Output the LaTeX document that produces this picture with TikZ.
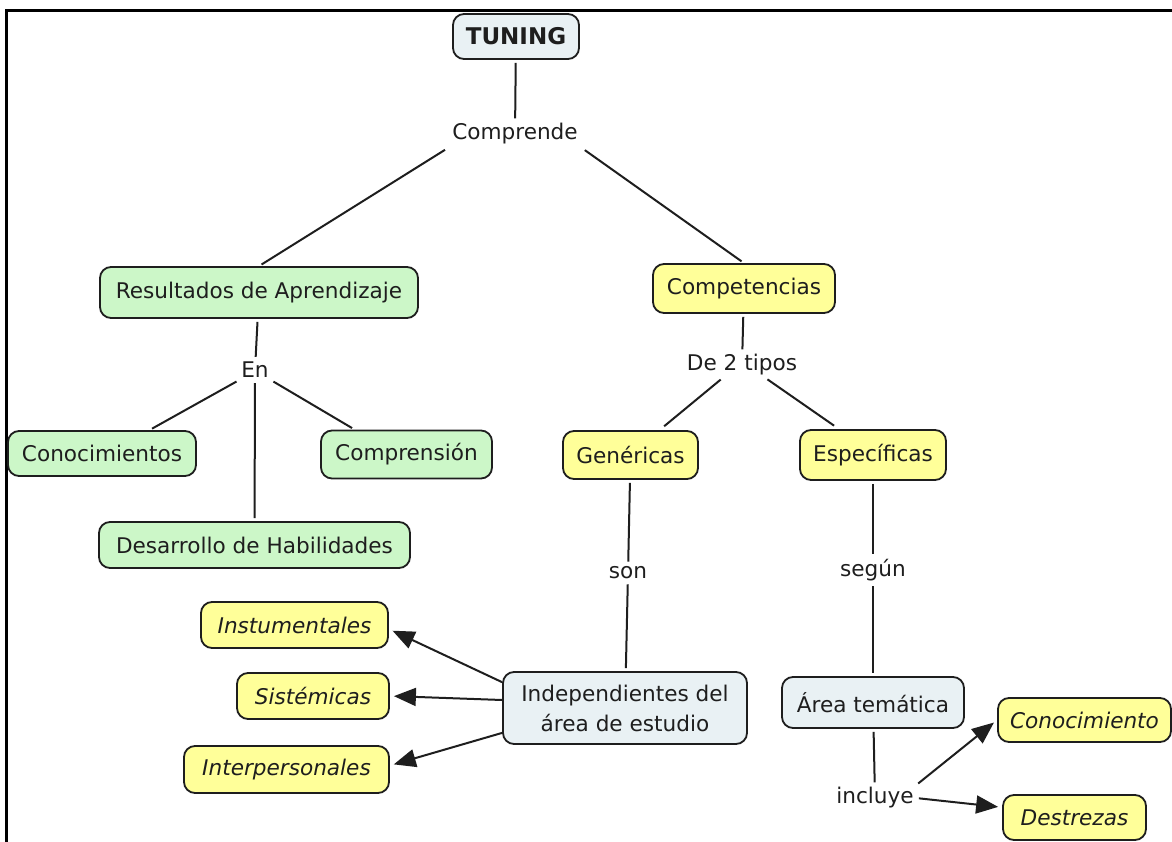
\documentclass[tikz,border=0pt]{standalone}
\usepackage{fontspec}
\setmainfont{DejaVu Sans}
\usetikzlibrary{arrows.meta,calc}
\definecolor{gfill}{HTML}{CCF7C8}
\definecolor{yfill}{HTML}{FFFF99}
\definecolor{bfill}{HTML}{E9F1F4}
\definecolor{ink}{HTML}{1E1E1E}
\begin{document}
\begin{tikzpicture}[x=1pt,y=-1pt,
  font=\fontsize{21.6}{30}\selectfont, text=ink,
  box/.style={draw=ink, line width=1.8pt, rounded corners=11pt, minimum height=47pt, inner sep=0pt, align=center},
  gbox/.style={box, fill=gfill},
  ybox/.style={box, fill=yfill},
  bbox/.style={box, fill=bfill},
  itbox/.style={ybox, font=\fontsize{21.6}{30}\selectfont\itshape},
  lbl/.style={inner sep=2pt},
  con/.style={line width=2pt, draw=ink, shorten <=3pt, shorten >=3pt},
  arr/.style={con, shorten >=4pt, -{Triangle[length=22pt,width=18pt]}}]

\useasboundingbox (0,0) rectangle (1172,842);
\draw[line width=3pt, draw=black] (6.5,842) -- (6.5,10.5) -- (1172,10.5);

% boxes
\node[bbox, minimum width=126pt, minimum height=45pt, font=\fontsize{23}{30}\selectfont\bfseries] (tuning) at (516,36.5) {TUNING};
\node[gbox, minimum width=318pt, minimum height=51pt] (resultados) at (259,292.5) {Resultados de Aprendizaje};
\node[ybox, minimum width=182pt, minimum height=49pt] (competencias) at (744,288.5) {Competencias};
\node[gbox, minimum width=188pt, minimum height=45pt] (conocimientos) at (102,453.5) {Conocimientos};
\node[gbox, minimum width=171pt, minimum height=48pt] (comprension) at (406.5,454.5) {Comprensión};
\node[gbox, minimum width=311pt, minimum height=46pt] (desarrollo) at (254.5,545) {Desarrollo de Habilidades};
\node[ybox, minimum width=135pt, minimum height=48pt] (genericas) at (630.5,455) {Genéricas};
\node[ybox, minimum width=146pt, minimum height=50pt] (especificas) at (873,455) {Específicas};
\node[bbox, minimum width=244pt, minimum height=72pt] (indep) at (625,708) {Independientes del\\área de estudio};
\node[bbox, minimum width=182pt, minimum height=51pt] (area) at (873,702.5) {Área temática};
\node[itbox, minimum width=173pt, minimum height=44pt] (conocimiento) at (1084.5,720) {Conocimiento};
\node[itbox, minimum width=143pt, minimum height=45pt] (destrezas) at (1074.5,817.5) {Destrezas};
\node[itbox, minimum width=187pt, minimum height=46pt] (instumentales) at (294.5,625) {Instumentales};
\node[itbox, minimum width=152pt, minimum height=46pt] (sistemicas) at (313,696) {Sistémicas};
\node[itbox, minimum width=205pt, minimum height=47pt] (interpersonales) at (286.5,769.5) {Interpersonales};

% linking phrases
\node[lbl] (comprende) at (515,134) {Comprende};
\node[lbl] (en) at (255,370) {En};
\node[lbl] (de2) at (742,365) {De 2 tipos};
\node[lbl] (son) at (628,573) {son};
\node[lbl] (segun) at (873,570) {según};
\node[lbl] (incluye) at (875,798) {incluye};

% connectors
\draw[con] (tuning) -- (comprende);
\draw[con, shorten <=6pt] (comprende.south west) -- (resultados.north);
\draw[con, shorten <=6pt] (comprende.south east) -- (competencias.north);
\draw[con] (resultados) -- (en);
\draw[con] (en.south west) -- ($(conocimientos.north)!0.5!(conocimientos.north east)$);
\draw[con] (en.south east) -- ($(comprension.north west)!0.4!(comprension.north)$);
\draw[con] (en) -- (desarrollo);
\draw[con] (competencias) -- (de2);
\draw[con, shorten >=6pt] ($(de2.south)+(-19,0)$) -- ($(genericas.north)+(29,0)$);
\draw[con, shorten >=6pt] ($(de2.south)+(23,0)$) -- ($(especificas.north)+(-34,0)$);
\draw[con] (genericas) -- (son);
\draw[con] (son) -- (indep);
\draw[con] (especificas) -- (segun);
\draw[con] (segun) -- (area);
\draw[con] (area) -- (incluye);
\draw[arr] (incluye.north east) -- (conocimiento.west);
\draw[arr] (incluye.east) -- (destrezas.172);
\draw[arr, shorten <=0pt] ($(indep.north west)!0.15!(indep.south west)$) -- ($(instumentales.east)+(0,4)$);
\draw[arr, shorten <=0pt] ($(indep.west)+(0,-8)$) -- (sistemicas.east);
\draw[arr, shorten <=0pt] ($(indep.south west)+(0,-12)$) -- ($(interpersonales.east)+(0,-4)$);
\end{tikzpicture}
\end{document}
